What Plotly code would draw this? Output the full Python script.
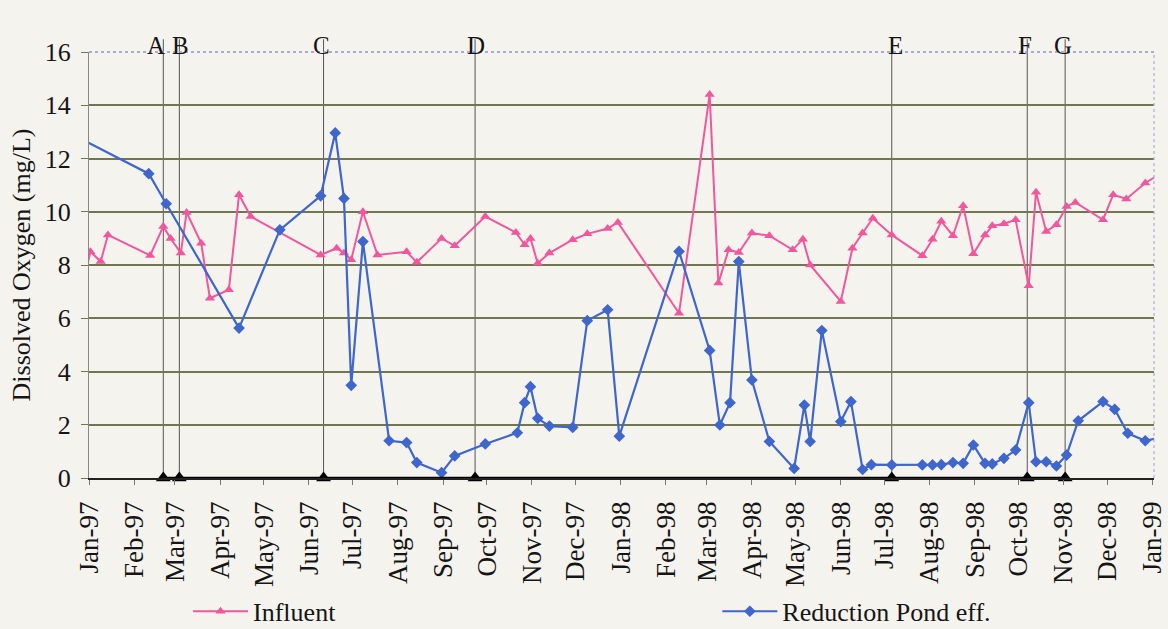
import plotly.graph_objects as go

# ---------------- data ----------------
influent_dates = [
    "1996-12-30", "1997-01-02", "1997-01-09", "1997-01-14", "1997-02-12", "1997-02-21",
    "1997-02-26", "1997-03-05", "1997-03-09", "1997-03-19", "1997-03-25", "1997-04-07",
    "1997-04-14", "1997-04-22", "1997-06-09", "1997-06-20", "1997-06-25", "1997-06-30",
    "1997-07-08", "1997-07-18", "1997-08-07", "1997-08-14", "1997-08-31", "1997-09-09",
    "1997-09-30", "1997-10-21", "1997-10-27", "1997-10-31", "1997-11-05", "1997-11-13",
    "1997-11-29", "1997-12-09", "1997-12-23", "1997-12-30", "1998-02-10", "1998-03-03",
    "1998-03-09", "1998-03-16", "1998-03-23", "1998-04-01", "1998-04-13", "1998-04-29",
    "1998-05-06", "1998-05-11", "1998-06-01", "1998-06-09", "1998-06-16", "1998-06-23",
    "1998-07-06", "1998-07-27", "1998-08-03", "1998-08-09", "1998-08-17", "1998-08-24",
    "1998-08-31", "1998-09-08", "1998-09-13", "1998-09-21", "1998-09-29", "1998-10-08",
    "1998-10-13", "1998-10-20", "1998-10-27", "1998-11-03", "1998-11-09", "1998-11-28",
    "1998-12-05", "1998-12-14", "1998-12-27", "1999-01-04",
]
influent_values = [
    7.8, 8.5, 8.13, 9.13, 8.36, 9.45,
    9.0, 8.45, 9.97, 8.82, 6.75, 7.07,
    10.64, 9.82, 8.38, 8.63, 8.45, 8.2,
    10.0, 8.38, 8.5, 8.1, 9.0, 8.72,
    9.82, 9.22, 8.76, 9.0, 8.07, 8.45,
    8.95, 9.17, 9.37, 9.6, 6.19, 14.4,
    7.32, 8.57, 8.47, 9.2, 9.1, 8.57,
    8.97, 8.0, 6.63, 8.63, 9.2, 9.76,
    9.13, 8.35, 8.97, 9.64, 9.1, 10.23,
    8.42, 9.13, 9.47, 9.55, 9.7, 7.22,
    10.73, 9.26, 9.51, 10.2, 10.35, 9.7,
    10.64, 10.48, 11.08, 11.35,
]

pond_dates = [
    "1996-12-25", "1997-02-11", "1997-02-23", "1997-04-14", "1997-05-12", "1997-06-09",
    "1997-06-19", "1997-06-25", "1997-06-30", "1997-07-08", "1997-07-26", "1997-08-07",
    "1997-08-14", "1997-08-31", "1997-09-09", "1997-09-30", "1997-10-22", "1997-10-27",
    "1997-10-31", "1997-11-05", "1997-11-13", "1997-11-29", "1997-12-09", "1997-12-23",
    "1997-12-31", "1998-02-10", "1998-03-03", "1998-03-10", "1998-03-17", "1998-03-23",
    "1998-04-01", "1998-04-13", "1998-04-30", "1998-05-07", "1998-05-11", "1998-05-19",
    "1998-06-01", "1998-06-08", "1998-06-16", "1998-06-22", "1998-07-06", "1998-07-27",
    "1998-08-03", "1998-08-09", "1998-08-17", "1998-08-24", "1998-08-31", "1998-09-08",
    "1998-09-13", "1998-09-21", "1998-09-29", "1998-10-08", "1998-10-13", "1998-10-20",
    "1998-10-27", "1998-11-03", "1998-11-11", "1998-11-28", "1998-12-06", "1998-12-15",
    "1998-12-27", "1999-01-04",
]
pond_values = [
    12.78, 11.43, 10.3, 5.63, 9.32, 10.6,
    12.96, 10.5, 3.48, 8.88, 1.4, 1.33,
    0.58, 0.2, 0.83, 1.28, 1.7, 2.83,
    3.43, 2.24, 1.95, 1.9, 5.91, 6.32,
    1.57, 8.51, 4.79, 1.99, 2.83, 8.13,
    3.68, 1.37, 0.36, 2.74, 1.37, 5.54,
    2.12, 2.87, 0.32, 0.5, 0.49, 0.49,
    0.49, 0.5, 0.58, 0.55, 1.24, 0.55,
    0.53, 0.74, 1.05, 2.83, 0.61, 0.61,
    0.45, 0.86, 2.15, 2.87, 2.58, 1.68,
    1.4, 1.49,
]

event_labels = ["A", "B", "C", "D", "E", "F", "G"]
event_dates = ["1997-02-21", "1997-03-04", "1997-06-11", "1997-09-23",
               "1998-07-06", "1998-10-07", "1998-11-02"]
event_values = [0, 0, 0, 0, 0, 0, 0]
event_label_shift = [-7, 1, -2, 1, 4, -2, -2]

y_ticks = [0, 2, 4, 6, 8, 10, 12, 14, 16]

# ---------------- figure ----------------
PINK = "#f0579c"
BLUE = "#3e66cc"
GRID = "#6f7650"
BG = "#f5f3ee"
SERIF = "Liberation Serif"
TXT = "#151515"

fig = go.Figure()

fig.add_trace(go.Scatter(
    x=influent_dates, y=influent_values, name="Influent", mode="lines+markers",
    line=dict(color=PINK, width=2),
    marker=dict(symbol="triangle-up", size=9, color=PINK),
    legend="legend",
))
fig.add_trace(go.Scatter(
    x=pond_dates, y=pond_values, name="Reduction Pond eff.", mode="lines+markers",
    line=dict(color=BLUE, width=2.2),
    marker=dict(symbol="diamond", size=9, color=BLUE),
    legend="legend2",
))
fig.add_trace(go.Scatter(
    x=event_dates, y=event_values, mode="lines+markers", showlegend=False,
    line=dict(color="black", width=2.5),
    marker=dict(symbol="triangle-up", size=13, color="black"),
    cliponaxis=False,
))

shapes = []
for d in event_dates:
    shapes.append(dict(type="line", xref="x", yref="paper", x0=d, x1=d, y0=0, y1=1.03,
                       line=dict(color="#555555", width=1), layer="below"))
# dotted top and right border
shapes.append(dict(type="line", xref="paper", yref="paper", x0=0, x1=1, y0=1, y1=1,
                   line=dict(color="#8f95cc", width=1.5, dash="dot")))
shapes.append(dict(type="line", xref="paper", yref="paper", x0=1, x1=1, y0=0, y1=1,
                   line=dict(color="#a9aed6", width=1.2, dash="dot")))

annotations = []
for lab, d, s in zip(event_labels, event_dates, event_label_shift):
    annotations.append(dict(x=d, y=1.052, xref="x", yref="paper", text=lab, showarrow=False,
                            xshift=s, font=dict(family=SERIF, size=25, color=TXT)))

legend_font = dict(family=SERIF, size=26, color=TXT)
fig.update_layout(
    width=1168, height=629,
    margin=dict(l=89, r=14, t=52, b=151, autoexpand=False),
    paper_bgcolor=BG, plot_bgcolor=BG,
    font=dict(family=SERIF, size=24, color=TXT),
    shapes=shapes, annotations=annotations,
    showlegend=True,
    legend=dict(orientation="h", x=0.093, xanchor="left", y=-0.313, yanchor="middle",
                itemwidth=55, bgcolor="rgba(0,0,0,0)", font=legend_font),
    legend2=dict(orientation="h", x=0.59, xanchor="left", y=-0.313, yanchor="middle",
                 itemwidth=55, bgcolor="rgba(0,0,0,0)", font=legend_font),
)
fig.update_xaxes(
    type="date", range=["1997-01-01", "1999-01-02"],
    dtick="M1", tick0="1997-01-01", tickformat="%b-%y", tickangle=-90,
    showgrid=False, showline=True, linecolor="#222222", linewidth=1.5,
    ticks="outside", ticklen=5, tickcolor="#777777",
    tickfont=dict(family=SERIF, size=27, color=TXT), ticklabelstandoff=6,
    ticklabeloverflow="allow",
    zeroline=False, automargin=False,
)
fig.update_yaxes(
    range=[0, 16], tickvals=y_ticks, showgrid=True, gridcolor=GRID, gridwidth=1.5,
    showline=True, linecolor="#888888", linewidth=1.2, zeroline=False,
    ticks="outside", ticklen=7, tickcolor=GRID,
    tickfont=dict(family=SERIF, size=26, color=TXT), ticklabelstandoff=5,
    title=dict(text="Dissolved Oxygen (mg/L)", font=dict(family=SERIF, size=26, color=TXT),
               standoff=6),
    automargin=False,
)

fig.write_html("out.html")
